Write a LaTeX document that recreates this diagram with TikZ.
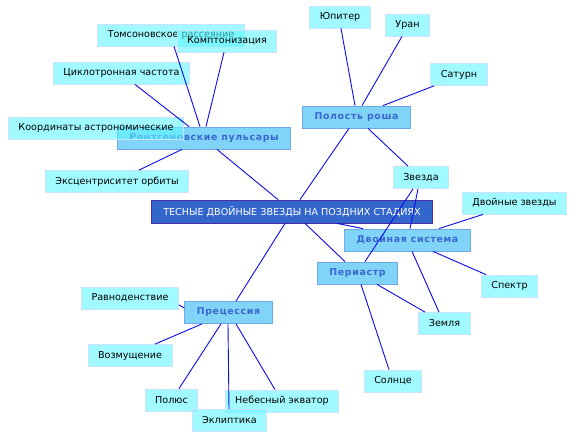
\documentclass[tikz,border=0pt]{standalone}
\usepackage{fontspec}
\setmainfont{DejaVu Sans}
\usepackage{tikz}
\usetikzlibrary{positioning}
\definecolor{rootFill}{HTML}{3366CC}
\definecolor{rootLine}{HTML}{4630A0}
\definecolor{topicFill}{HTML}{80D4F8}
\definecolor{topicLine}{HTML}{6FA8E8}
\definecolor{topicText}{HTML}{3A66D0}
\definecolor{leafFill}{HTML}{61F7FF}
\definecolor{leafLine}{HTML}{C8E2FF}
\definecolor{linkBlue}{HTML}{0A0AF0}

\begin{document}
\begin{tikzpicture}[x=1pt, y=-1pt, font=\fontsize{9.6}{11}\selectfont,
  leaf/.style={rectangle,draw=leafLine,fill=leafFill,fill opacity=0.6,text opacity=1,thick,minimum height=22pt,inner xsep=10pt,inner ysep=0pt,text=black},
  topic/.style={rectangle,draw=topicLine,fill=topicFill,thick,minimum height=22pt,inner xsep=12pt,inner ysep=0pt,text=topicText,font=\fontsize{9.4}{11}\selectfont\bfseries\addfontfeatures{LetterSpace=7}},
  root/.style={rectangle,draw=rootLine,fill=rootFill,thick,minimum height=23pt,inner xsep=12pt,inner ysep=0pt,text=white},
  link/.style={linkBlue,line width=0.9pt}]
\useasboundingbox (0,0) rectangle (576,438);
% --- main topic ---
  \node[root] (main) at (292,211.5) {ТЕСНЫЕ ДВОЙНЫЕ ЗВЕЗДЫ НА ПОЗДНИХ СТАДИЯХ};
% --- x-ray pulsars ---
  \node[leaf] (tom) at (171,35) {Томсоновское рассеяние};
  \node[leaf] (kom) at (227,41) {Комптонизация};
  \node[leaf] (cyc) at (121.5,73) {Циклотронная частота};
  \node[topic] (rp) at (204,138) {Рентгеновские пульсары};
  \node[leaf] (koord) at (96,128) {Координаты астрономические};
  \node[leaf] (ecc) at (117,181.5) {Эксцентриситет орбиты};
% --- Roche lobe ---
  \node[topic] (roche) at (356.5,117) {Полость роша};
  \node[leaf] (jup) at (340,17) {Юпитер};
  \node[leaf] (ura) at (407.5,25) {Уран};
  \node[leaf] (sat) at (459,74.5) {Сатурн};
  \node[leaf] (star) at (421,177.5) {Звезда};
% --- binary system ---
  \node[leaf] (dbl) at (514.5,203) {Двойные звезды};
  \node[topic] (bin) at (407.5,240) {Двойная система};
  \node[topic] (peri) at (357.5,273) {Периастр};
  \node[leaf] (spec) at (509.5,286) {Спектр};
  \node[leaf] (earth) at (444.5,323.5) {Земля};
  \node[leaf] (sun) at (393,381) {Солнце};
% --- precession ---
  \node[topic] (prec) at (228.5,312.5) {Прецессия};
  \node[leaf] (equi) at (130,298) {Равноденствие};
  \node[leaf] (voz) at (130,355.5) {Возмущение};
  \node[leaf] (pol) at (171.5,400) {Полюс};
  \node[leaf] (ekv) at (282,401) {Небесный экватор};
  \node[leaf] (ecl) at (229.5,420.5) {Эклиптика};
% --- links ---
  \draw[link] ([xshift=3pt]tom.south) -- ([xshift=-4pt]rp.north);
  \draw[link] ([xshift=-3pt]kom.south) -- ([xshift=2pt]rp.north);
  \draw[link] ([xshift=13.5pt]cyc.south) -- ([xshift=-15pt]rp.north);
  \draw[link] ([xshift=22pt]ecc.north) -- ([xshift=-22pt]rp.south);
  \draw[link] ([xshift=13pt]rp.south) -- ([xshift=-14pt]main.north);
  \draw[link] ([xshift=-1.5pt]roche.north) -- ([xshift=1pt]jup.south);
  \draw[link] ([xshift=5.5pt]roche.north) -- ([xshift=-5.5pt]ura.south);
  \draw[link] ([xshift=26.5pt]roche.north) -- ([xshift=-25pt]sat.south);
  \draw[link] ([xshift=11.5pt]roche.south) -- ([xshift=-13pt]star.north);
  \draw[link] ([xshift=-7.5pt]roche.south) -- ([xshift=8pt]main.north);
  \draw[link] ([xshift=-8pt]star.south) -- ([xshift=7.5pt]peri.north);
  \draw[link] ([xshift=-3pt]star.south) -- ([xshift=2.5pt]bin.north);
  \draw[link] ([xshift=45pt]main.south) -- ([xshift=-44.5pt]bin.north);
  \draw[link] ([xshift=13pt]main.south) -- ([xshift=-12.5pt]peri.north);
  \draw[link] ([xshift=-31.5pt]dbl.south) -- ([xshift=31.5pt]bin.north);
  \draw[link] ([xshift=25.5pt]bin.south) -- ([xshift=-23.5pt]spec.north);
  \draw[link] ([xshift=4.5pt]bin.south) -- ([xshift=-5.5pt]earth.north);
  \draw[link] ([xshift=19.5pt]peri.south) -- ([xshift=-19.5pt]earth.north);
  \draw[link] ([xshift=3.5pt]peri.south) -- ([xshift=-4pt]sun.north);
  \draw[link] ([xshift=-7pt]main.south) -- ([xshift=7.5pt]prec.north);
  \draw[link] ([yshift=4.5pt]prec.west) -- ([yshift=-7pt]equi.east);
  \draw[link] ([xshift=-26.5pt]prec.south) -- ([xshift=25pt]voz.north);
  \draw[link] ([xshift=-7.5pt]prec.south) -- ([xshift=7.5pt]pol.north);
  \draw[link] ([xshift=-0.5pt]prec.south) -- ([xshift=-0.5pt]ecl.north);
  \draw[link] ([xshift=7.5pt]prec.south) -- ([xshift=-7pt]ekv.north);
\end{tikzpicture}
\end{document}
